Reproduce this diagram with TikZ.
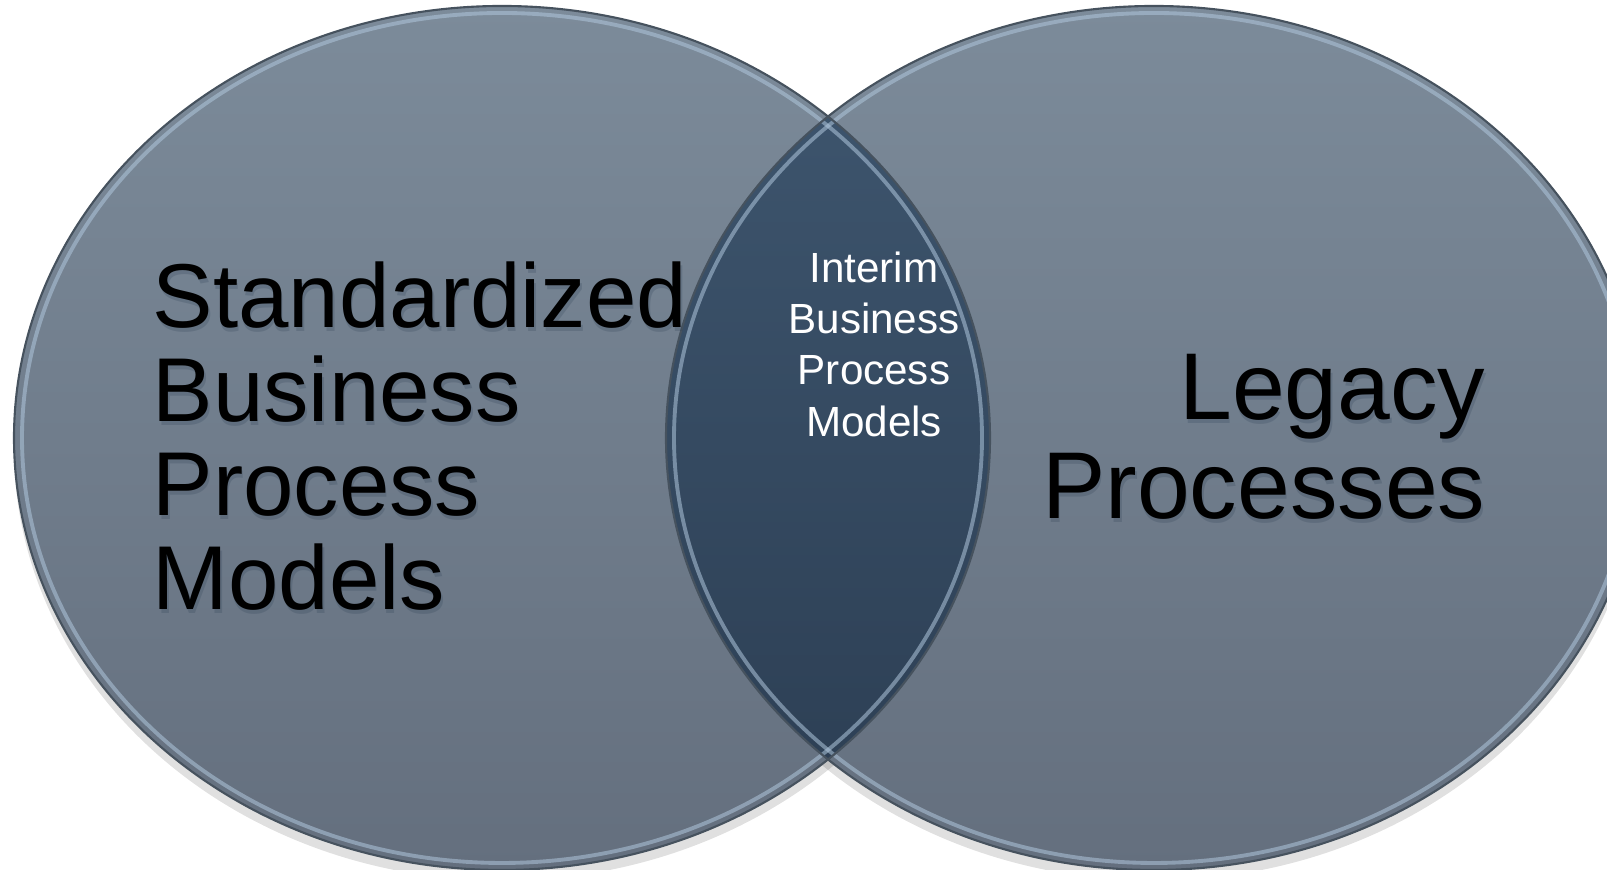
\documentclass[tikz,border=0pt]{standalone}
\usepackage{fontspec}
\setmainfont{Liberation Sans}

\definecolor{discTop}{HTML}{7C8B9A}
\definecolor{discBottom}{HTML}{646F7E}
\definecolor{coreTop}{HTML}{3F5770}
\definecolor{coreBottom}{HTML}{2B3D52}
\definecolor{rimDark}{HTML}{46525E}
\definecolor{rimLight}{HTML}{AFC6DC}

\begin{document}
\begin{tikzpicture}[
    disc/.style={top color=discTop, bottom color=discBottom},
    core/.style={top color=coreTop, bottom color=coreBottom},
    rim/.style={draw=rimDark, line width=0.6pt},
    glint/.style={draw=rimLight, line width=1.1pt, opacity=0.55},
    bigtext/.style={inner sep=0pt, text=black},
    txtshade/.style={inner sep=0pt, text=coreBottom, opacity=0.22},
]
    \useasboundingbox (0, 0) rectangle (16.07, 8.70);
    \coordinate (std) at (5.02, 4.32);
    \coordinate (leg) at (11.54, 4.32);

    % soft shadow under the discs
    \fill[black, opacity=0.12] ([yshift=-3pt]std) ellipse [x radius=4.88, y radius=4.32];
    \fill[black, opacity=0.12] ([yshift=-3pt]leg) ellipse [x radius=4.88, y radius=4.32];

    % the two sets
    \fill[disc] (std) ellipse [x radius=4.88, y radius=4.32];
    \fill[disc] (leg) ellipse [x radius=4.88, y radius=4.32];

    % overlap
    \begin{scope}
        \clip (std) ellipse [x radius=4.88, y radius=4.32];
        \fill[core] (leg) ellipse [x radius=4.88, y radius=4.32];
    \end{scope}

    % rims
    \draw[glint] (std) ellipse [x radius=4.80, y radius=4.25];
    \draw[glint] (leg) ellipse [x radius=4.80, y radius=4.25];
    \draw[rim] (std) ellipse [x radius=4.88, y radius=4.32];
    \draw[rim] (leg) ellipse [x radius=4.88, y radius=4.32];

    % labels
    \node[txtshade, anchor=north west, align=left, font=\fontsize{25.8}{26.8}\selectfont]
        (stdshade) at (1.535, 6.05) {Standardized\\Business\\Process\\Models};
    \node[bigtext, anchor=north west, align=left, font=\fontsize{25.8}{26.8}\selectfont]
        (stdlabel) at (1.52, 6.09) {Standardized\\Business\\Process\\Models};
    \node[txtshade, anchor=north east, align=right, font=\fontsize{27}{27.9}\selectfont]
        (legshade) at (14.875, 5.12) {Legacy\\Processes};
    \node[bigtext, anchor=north east, align=right, font=\fontsize{27}{27.9}\selectfont]
        (leglabel) at (14.86, 5.16) {Legacy\\Processes};
    \node[inner sep=0pt, anchor=north, align=center, text=white,
          font=\fontsize{12}{14.6}\selectfont]
        (interim) at (8.74, 6.19) {Interim\\Business\\Process\\Models};
\end{tikzpicture}
\end{document}
